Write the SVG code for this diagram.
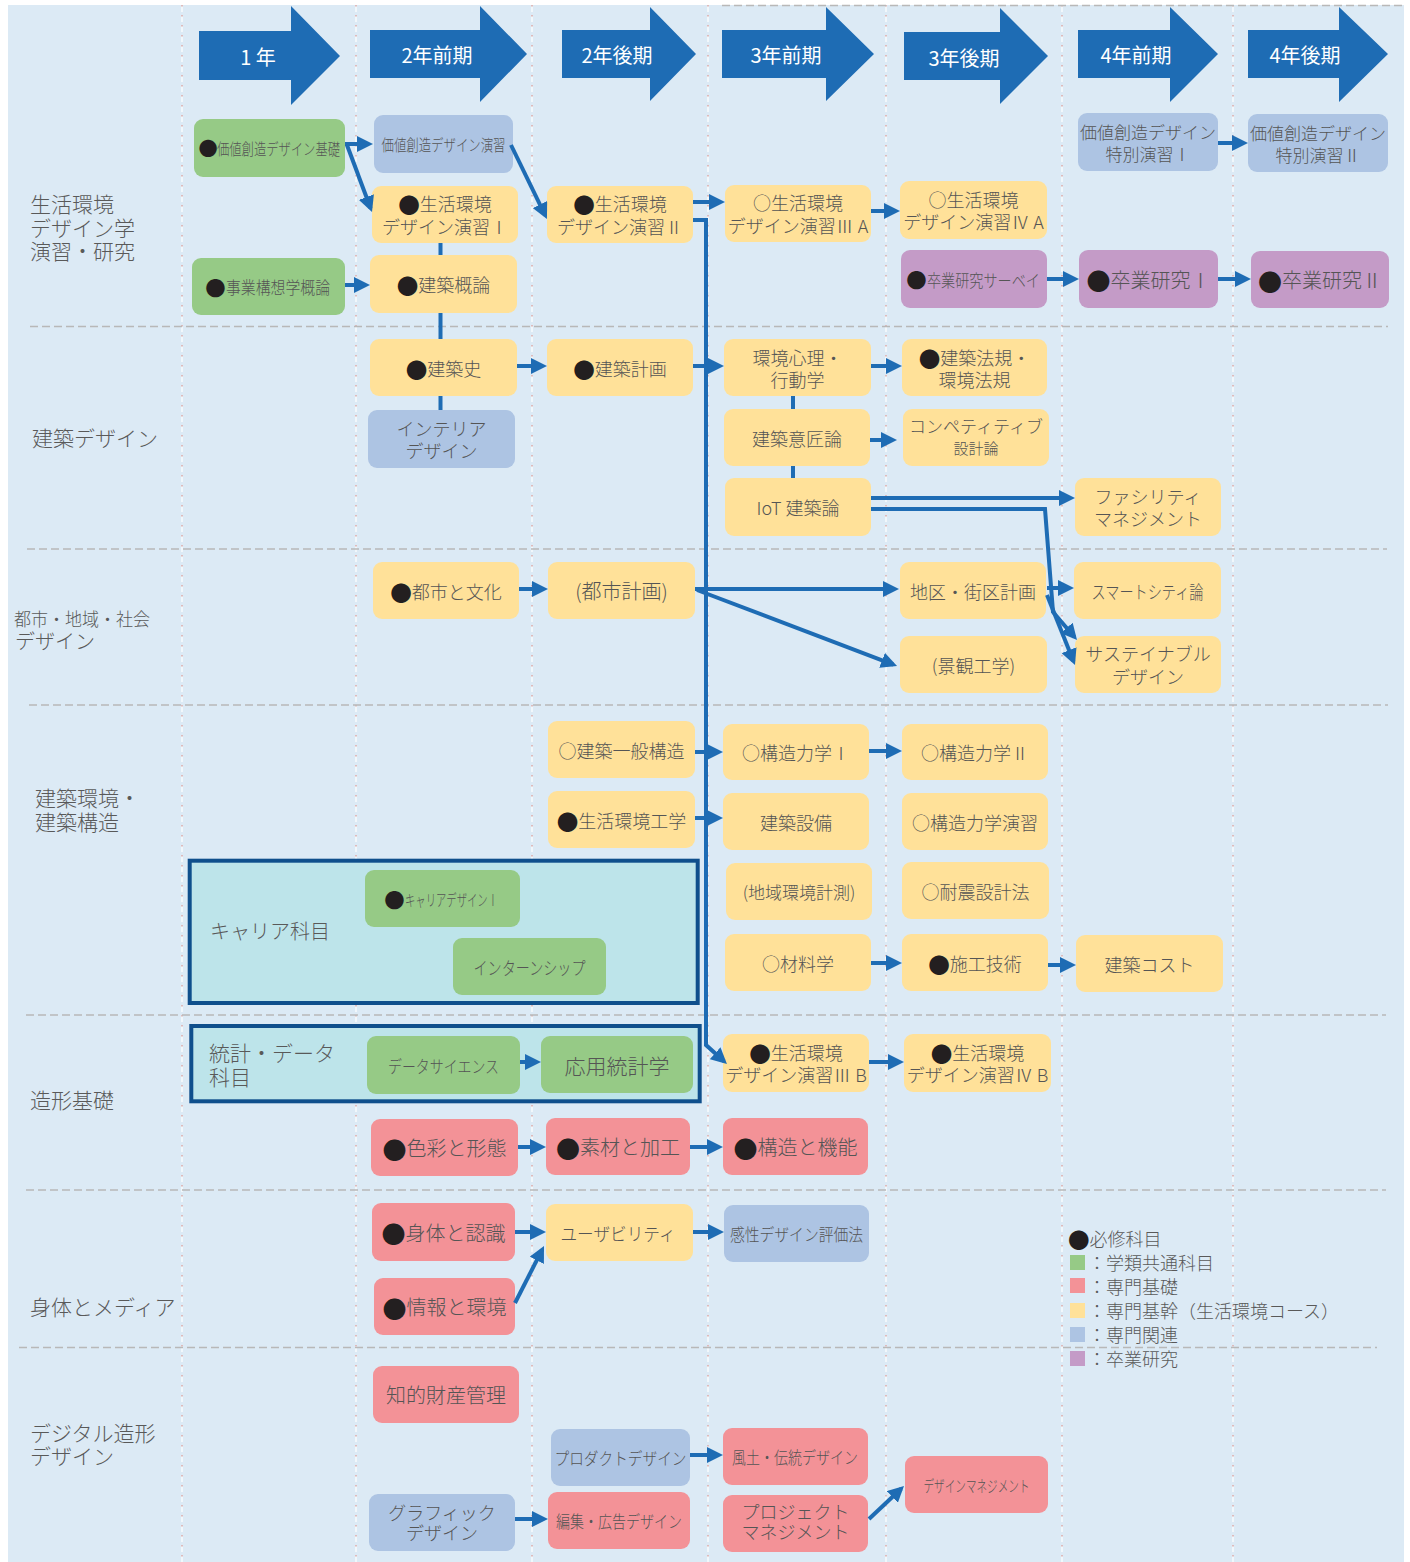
<svg xmlns="http://www.w3.org/2000/svg" width="1410" height="1562" viewBox="0 0 1410 1562">
<defs>
<style>
.t{font-family:"Noto Sans CJK JP","Noto Sans CJK SC",sans-serif;font-weight:300;fill:#555555;text-anchor:middle;dominant-baseline:central}
.st{text-anchor:start}
.l{font-family:"Noto Sans CJK JP","Noto Sans CJK SC",sans-serif;font-weight:300;fill:#595959;dominant-baseline:central;font-size:21px}
.h{font-family:"Noto Sans CJK JP","Noto Sans CJK SC",sans-serif;fill:#fff;text-anchor:middle;dominant-baseline:central;font-size:20px}
.f15{font-size:15px}.f16{font-size:16px}.f17{font-size:17px}.f18{font-size:18px}.f20{font-size:20px}.f21{font-size:21px}
.d{fill:#231f20;font-size:1.2em}
.g{fill:#96ca86}.y{fill:#ffe199}.b{fill:#adc4e3}.p{fill:#c49bc7}.r{fill:#f39297}
.hd{fill:#1e6cb4}
.c{fill:none;stroke:#1e6cb4;stroke-width:4;marker-end:url(#ah)}
.s{fill:none;stroke:#1e6cb4;stroke-width:4}
.hl{stroke:#b8b8b8;stroke-width:1.5;stroke-dasharray:8 4;fill:none}
.vw{stroke:#ffffff;stroke-width:1.2;stroke-dasharray:7 3}
.vp{stroke:#d8a8a8;stroke-width:1.5;stroke-dasharray:1.5 8.5}
.box{fill:#bde4ea;stroke:#0f4f8c;stroke-width:4}
</style>
<marker id="ah" markerUnits="userSpaceOnUse" markerWidth="16" markerHeight="16" refX="12" refY="8" orient="auto">
<path d="M0,0 L16,8 L0,16 z" fill="#1e6cb4"/>
</marker>
</defs>
<rect x="0" y="0" width="1410" height="1562" fill="#ffffff"/>
<rect x="8" y="5" width="1396" height="1557" fill="#dceaf5"/>

<g id="grid">
<g class="vw">
<line x1="182" y1="5" x2="182" y2="1562"/><line x1="356" y1="5" x2="356" y2="1562"/><line x1="532" y1="5" x2="532" y2="1562"/><line x1="708" y1="5" x2="708" y2="1562"/><line x1="886" y1="5" x2="886" y2="1562"/><line x1="1062" y1="5" x2="1062" y2="1562"/><line x1="1233" y1="5" x2="1233" y2="1562"/>
</g>
<g class="vp">
<line x1="182" y1="5" x2="182" y2="1562"/><line x1="356" y1="5" x2="356" y2="1562"/><line x1="532" y1="5" x2="532" y2="1562"/><line x1="708" y1="5" x2="708" y2="1562"/><line x1="886" y1="5" x2="886" y2="1562"/><line x1="1062" y1="5" x2="1062" y2="1562"/><line x1="1233" y1="5" x2="1233" y2="1562"/>
</g>
<line class="hl" x1="722" y1="5.5" x2="1403" y2="5.5"/>
<line class="hl" x1="30" y1="326.5" x2="1388" y2="326.5"/>
<line class="hl" x1="27" y1="549" x2="1387" y2="549"/>
<line class="hl" x1="29" y1="705" x2="1388" y2="705"/>
<line class="hl" x1="26" y1="1015" x2="1386" y2="1015"/>
<line class="hl" x1="26" y1="1190" x2="1386" y2="1190"/>
<line class="hl" x1="19" y1="1347.5" x2="1377" y2="1347.5"/>
</g>

<g id="headers">
<g id="h1"><polygon class="hd" points="199,31 291,31 291,6 340,56 291,105 291,80 199,80"/><text class="h" x="258" y="56">1 年</text></g>
<g id="h2"><polygon class="hd" points="370,30 480,30 480,6 527,54 480,102 480,78 370,78"/><text class="h" x="437" y="54">2年前期</text></g>
<g id="h3"><polygon class="hd" points="562,30 650,30 650,7 696,54 650,101 650,78 562,78"/><text class="h" x="617" y="54">2年後期</text></g>
<g id="h4"><polygon class="hd" points="722,30 826,30 826,7 874,54 826,101 826,78 722,78"/><text class="h" x="786" y="54">3年前期</text></g>
<g id="h5"><polygon class="hd" points="904,32 1000,32 1000,8 1048,56 1000,104 1000,80 904,80"/><text class="h" x="964" y="57">3年後期</text></g>
<g id="h6"><polygon class="hd" points="1078,30 1170,30 1170,7 1218,54 1170,102 1170,78 1078,78"/><text class="h" x="1136" y="54">4年前期</text></g>
<g id="h7"><polygon class="hd" points="1248,30 1339,30 1339,7 1388,54 1339,102 1339,78 1248,78"/><text class="h" x="1305" y="54">4年後期</text></g>
</g>

<g id="rowlabels">
<text class="l" x="30" y="203">生活環境</text>
<text class="l" x="30" y="226.5">デザイン学</text>
<text class="l" x="30" y="250">演習・研究</text>
<text class="l" x="32" y="437">建築デザイン</text>
<text class="l" x="14" y="618" style="font-size:18px" textLength="136" lengthAdjust="spacingAndGlyphs">都市・地域・社会</text>
<text class="l" x="15" y="640" style="font-size:20px">デザイン</text>
<text class="l" x="35" y="797">建築環境・</text>
<text class="l" x="35" y="821">建築構造</text>
<text class="l" x="30" y="1099">造形基礎</text>
<text class="l" x="30" y="1306">身体とメディア</text>
<text class="l" x="30" y="1432">デジタル造形</text>
<text class="l" x="30" y="1455">デザイン</text>
</g>

<g id="careerbox"><rect class="box" x="189.7" y="860.7" width="508" height="142.3"/><text class="l" x="210" y="930" style="font-size:20px">キャリア科目</text></g>
<g id="statsbox"><rect class="box" x="191.3" y="1026" width="508.4" height="75.3"/><text class="l" x="209" y="1051.5">統計・データ</text><text class="l" x="209" y="1076">科目</text></g>

<g id="nodes">
<g id="n-kachi-kiso"><rect class="g" x="194" y="119" width="151" height="58" rx="9"/><text class="t f16" x="208" y="148"><tspan class="d">●</tspan></text><text class="t st f16" x="217" y="148" textLength="123" lengthAdjust="spacingAndGlyphs">価値創造デザイン基礎</text></g>
<g id="n-kachi-ensyu"><rect class="b" x="374" y="115" width="139" height="58" rx="9"/><text class="t f16" x="443.5" y="144" textLength="124" lengthAdjust="spacingAndGlyphs">価値創造デザイン演習</text></g>
<g id="n-sei1"><rect class="y" x="372" y="186" width="146" height="57" rx="9"/><text class="t f18" x="445" y="203"><tspan class="d">●</tspan>生活環境</text><text class="t f18" x="445" y="225.5">デザイン演習Ⅰ</text></g>
<g id="n-gairon"><rect class="y" x="370" y="255" width="147" height="58" rx="9"/><text class="t f18" x="443.5" y="284"><tspan class="d">●</tspan>建築概論</text></g>
<g id="n-jigyo"><rect class="g" x="192" y="258" width="153" height="57" rx="9"/><text class="t f17" x="215.5" y="286.5"><tspan class="d">●</tspan></text><text class="t st f17" x="226" y="286.5" textLength="104" lengthAdjust="spacingAndGlyphs">事業構想学概論</text></g>
<g id="n-sei2"><rect class="y" x="547" y="186" width="146" height="57" rx="9"/><text class="t f18" x="620" y="203"><tspan class="d">●</tspan>生活環境</text><text class="t f18" x="620" y="225.5">デザイン演習Ⅱ</text></g>
<g id="n-sei3a"><rect class="y" x="725" y="185" width="146" height="57" rx="9"/><text class="t f18" x="798" y="202">○生活環境</text><text class="t f18" x="798" y="224.5">デザイン演習Ⅲ A</text></g>
<g id="n-sei4a"><rect class="y" x="900" y="181" width="147" height="58" rx="9"/><text class="t f18" x="973.5" y="198.5">○生活環境</text><text class="t f18" x="973.5" y="221">デザイン演習Ⅳ A</text></g>
<g id="n-survey"><rect class="p" x="901" y="250" width="146" height="58" rx="9"/><text class="t f17" x="916.5" y="279"><tspan class="d">●</tspan></text><text class="t st f17" x="927" y="279" textLength="113" lengthAdjust="spacingAndGlyphs">卒業研究サーベイ</text></g>
<g id="n-toku1"><rect class="b" x="1078" y="113" width="140" height="58" rx="9"/><text class="t f17" x="1148" y="131">価値創造デザイン</text><text class="t f17" x="1148" y="153">特別演習Ⅰ</text></g>
<g id="n-toku2"><rect class="b" x="1248" y="114" width="140" height="58" rx="9"/><text class="t f17" x="1318" y="132">価値創造デザイン</text><text class="t f17" x="1318" y="154">特別演習Ⅱ</text></g>
<g id="n-sotsu1"><rect class="p" x="1079" y="250" width="139" height="58" rx="9"/><text class="t f20" x="1148.5" y="279"><tspan class="d">●</tspan>卒業研究Ⅰ</text></g>
<g id="n-sotsu2"><rect class="p" x="1251" y="251" width="138" height="57" rx="9"/><text class="t f20" x="1320" y="279.5"><tspan class="d">●</tspan>卒業研究Ⅱ</text></g>

<g id="n-shi"><rect class="y" x="370" y="339" width="147" height="57" rx="9"/><text class="t f18" x="443.5" y="367.5"><tspan class="d">●</tspan>建築史</text></g>
<g id="n-keikaku"><rect class="y" x="547" y="339" width="146" height="57" rx="9"/><text class="t f18" x="620" y="367.5"><tspan class="d">●</tspan>建築計画</text></g>
<g id="n-shinri"><rect class="y" x="724" y="339" width="147" height="57" rx="9"/><text class="t f18" x="797.5" y="356.5">環境心理・</text><text class="t f18" x="797.5" y="378.5">行動学</text></g>
<g id="n-hoki"><rect class="y" x="902" y="339" width="145" height="57" rx="9"/><text class="t f18" x="974.5" y="356.5"><tspan class="d">●</tspan>建築法規・</text><text class="t f18" x="974.5" y="378.5">環境法規</text></g>
<g id="n-interior"><rect class="b" x="368" y="410" width="147" height="58" rx="9"/><text class="t f18" x="441.5" y="428">インテリア</text><text class="t f18" x="441.5" y="450">デザイン</text></g>
<g id="n-isho"><rect class="y" x="724" y="409" width="146" height="57" rx="9"/><text class="t f18" x="797" y="437.5">建築意匠論</text></g>
<g id="n-compe"><rect class="y" x="903" y="409" width="146" height="57" rx="9"/><text class="t f17" x="976" y="425">コンペティティブ</text><text class="t f15" x="976" y="447.5">設計論</text></g>
<g id="n-iot"><rect class="y" x="725" y="478" width="146" height="58" rx="9"/><text class="t f18" x="798" y="507">IoT 建築論</text></g>
<g id="n-facility"><rect class="y" x="1075" y="478" width="146" height="58" rx="9"/><text class="t f18" x="1148" y="496">ファシリティ</text><text class="t f18" x="1148" y="517.5">マネジメント</text></g>

<g id="n-toshibunka"><rect class="y" x="373" y="562" width="146" height="57" rx="9"/><text class="t f18" x="446" y="590.5"><tspan class="d">●</tspan>都市と文化</text></g>
<g id="n-toshikeikaku"><rect class="y" x="548" y="562" width="147" height="57" rx="9"/><text class="t f20" x="621.5" y="590.5">(都市計画)</text></g>
<g id="n-chiku"><rect class="y" x="900" y="562" width="146" height="57" rx="9"/><text class="t f18" x="973" y="590.5">地区・街区計画</text></g>
<g id="n-keikan"><rect class="y" x="900" y="636" width="147" height="57" rx="9"/><text class="t f18" x="973.5" y="664.5">(景観工学)</text></g>
<g id="n-smart"><rect class="y" x="1074" y="562" width="147" height="57" rx="9"/><text class="t f18" x="1147.5" y="590.5" textLength="112" lengthAdjust="spacingAndGlyphs">スマートシティ論</text></g>
<g id="n-sustain"><rect class="y" x="1075" y="636" width="146" height="57" rx="9"/><text class="t f18" x="1148" y="653">サステイナブル</text><text class="t f18" x="1148" y="675.5">デザイン</text></g>

<g id="n-ippan"><rect class="y" x="548" y="721" width="147" height="57" rx="9"/><text class="t f18" x="621.5" y="749.5">○建築一般構造</text></g>
<g id="n-riki1"><rect class="y" x="723" y="724" width="146" height="56" rx="9"/><text class="t f18" x="796" y="752">○構造力学Ⅰ</text></g>
<g id="n-riki2"><rect class="y" x="902" y="724" width="146" height="56" rx="9"/><text class="t f18" x="975" y="752">○構造力学Ⅱ</text></g>
<g id="n-kogaku"><rect class="y" x="548" y="791" width="147" height="57" rx="9"/><text class="t f18" x="621.5" y="819.5"><tspan class="d">●</tspan>生活環境工学</text></g>
<g id="n-setsubi"><rect class="y" x="723" y="793" width="146" height="57" rx="9"/><text class="t f18" x="796" y="821.5">建築設備</text></g>
<g id="n-rikiensyu"><rect class="y" x="902" y="793" width="146" height="57" rx="9"/><text class="t f18" x="975" y="821.5">○構造力学演習</text></g>
<g id="n-keisoku"><rect class="y" x="726" y="863" width="146" height="57" rx="9"/><text class="t f17" x="799" y="891.5">(地域環境計測)</text></g>
<g id="n-taishin"><rect class="y" x="902" y="862" width="147" height="57" rx="9"/><text class="t f18" x="975.5" y="890.5">○耐震設計法</text></g>
<g id="n-zairyo"><rect class="y" x="725" y="934" width="146" height="57" rx="9"/><text class="t f18" x="798" y="962.5">○材料学</text></g>
<g id="n-seko"><rect class="y" x="902" y="934" width="146" height="57" rx="9"/><text class="t f18" x="975" y="962.5"><tspan class="d">●</tspan>施工技術</text></g>
<g id="n-cost"><rect class="y" x="1076" y="935" width="147" height="57" rx="9"/><text class="t f18" x="1149.5" y="963.5">建築コスト</text></g>

<g id="n-career1"><rect class="g" x="365" y="870" width="155" height="57" rx="9"/><text class="t f17" x="394.5" y="898.5"><tspan class="d">●</tspan></text><text class="t st f16" x="405" y="898.5" textLength="93" lengthAdjust="spacingAndGlyphs">キャリアデザインⅠ</text></g>
<g id="n-intern"><rect class="g" x="453" y="938" width="153" height="57" rx="9"/><text class="t f18" x="529.5" y="966.5" textLength="112" lengthAdjust="spacingAndGlyphs">インターンシップ</text></g>

<g id="n-datasci"><rect class="g" x="367" y="1036" width="153" height="58" rx="9"/><text class="t f17" x="443.5" y="1065" textLength="111" lengthAdjust="spacingAndGlyphs">データサイエンス</text></g>
<g id="n-oyo"><rect class="g" x="541" y="1036" width="152" height="57" rx="9"/><text class="t f21" x="617" y="1064.5">応用統計学</text></g>
<g id="n-sei3b"><rect class="y" x="723" y="1034" width="146" height="58" rx="9"/><text class="t f18" x="796" y="1051.5"><tspan class="d">●</tspan>生活環境</text><text class="t f18" x="796" y="1074">デザイン演習Ⅲ B</text></g>
<g id="n-sei4b"><rect class="y" x="904" y="1034" width="147" height="58" rx="9"/><text class="t f18" x="977.5" y="1051.5"><tspan class="d">●</tspan>生活環境</text><text class="t f18" x="977.5" y="1074">デザイン演習Ⅳ B</text></g>
<g id="n-shikisai"><rect class="r" x="371" y="1119" width="147" height="57" rx="9"/><text class="t f20" x="444.5" y="1147.5"><tspan class="d">●</tspan>色彩と形態</text></g>
<g id="n-sozai"><rect class="r" x="546" y="1118" width="144" height="57" rx="9"/><text class="t f20" x="618" y="1146.5"><tspan class="d">●</tspan>素材と加工</text></g>
<g id="n-kozo"><rect class="r" x="723" y="1118" width="145" height="57" rx="9"/><text class="t f20" x="795.5" y="1146.5"><tspan class="d">●</tspan>構造と機能</text></g>

<g id="n-shintai"><rect class="r" x="372" y="1203" width="143" height="58" rx="9"/><text class="t f20" x="443.5" y="1232"><tspan class="d">●</tspan>身体と認識</text></g>
<g id="n-joho"><rect class="r" x="374" y="1278" width="141" height="57" rx="9"/><text class="t f20" x="444.5" y="1306.5"><tspan class="d">●</tspan>情報と環境</text></g>
<g id="n-usability"><rect class="y" x="546" y="1204" width="147" height="57" rx="9"/><text class="t f18" x="618" y="1232.5" textLength="115" lengthAdjust="spacingAndGlyphs">ユーザビリティ</text></g>
<g id="n-kansei"><rect class="b" x="724" y="1205" width="145" height="57" rx="9"/><text class="t f17" x="796.5" y="1233.5" textLength="133" lengthAdjust="spacingAndGlyphs">感性デザイン評価法</text></g>

<g id="n-chiteki"><rect class="r" x="373" y="1366" width="146" height="57" rx="9"/><text class="t f20" x="446" y="1394.5">知的財産管理</text></g>
<g id="n-product"><rect class="b" x="551" y="1429" width="139" height="57" rx="9"/><text class="t f17" x="620.5" y="1457.5" textLength="132" lengthAdjust="spacingAndGlyphs">プロダクトデザイン</text></g>
<g id="n-fudo"><rect class="r" x="723" y="1428" width="145" height="57" rx="9"/><text class="t f17" x="795" y="1456.5" textLength="126" lengthAdjust="spacingAndGlyphs">風土・伝統デザイン</text></g>
<g id="n-graphic"><rect class="b" x="369" y="1494" width="146" height="57" rx="9"/><text class="t f18" x="442" y="1511.5">グラフィック</text><text class="t f18" x="442" y="1532">デザイン</text></g>
<g id="n-henshu"><rect class="r" x="548" y="1492" width="142" height="57" rx="9"/><text class="t f17" x="619" y="1520.5" textLength="126" lengthAdjust="spacingAndGlyphs">編集・広告デザイン</text></g>
<g id="n-project"><rect class="r" x="723" y="1495" width="145" height="57" rx="9"/><text class="t f18" x="795.5" y="1510.5">プロジェクト</text><text class="t f18" x="795.5" y="1531">マネジメント</text></g>
<g id="n-dmgmt"><rect class="r" x="905" y="1456" width="143" height="57" rx="9"/><text class="t f16" x="976.5" y="1484.5" textLength="106" lengthAdjust="spacingAndGlyphs">デザインマネジメント</text></g>
</g>

<g id="connectors">
<path class="c" d="M345,144 L369,144"/>
<path class="c" d="M347,145 L370.6,208.3"/>
<path class="c" d="M345,285 L366,285"/>
<path class="c" d="M511,145 L545.2,215.4"/>
<path class="c" d="M693,202 L721,202"/>
<path class="c" d="M871,211 L896,211"/>
<path class="c" d="M1047,279 L1075,279"/>
<path class="c" d="M1218,279 L1247,279"/>
<path class="c" d="M1218,143 L1244,143"/>
<path class="s" d="M440.5,243 V255 M440.5,313 V339 M440.5,396 V410"/>
<path class="c" d="M517,366 L543,366"/>
<path class="c" d="M693,366 L720,366"/>
<path class="c" d="M871,366 L898,366"/>
<path class="s" d="M793,396 V409 M793,466 V478"/>
<path class="c" d="M870,440 L893,440"/>
<path class="c" d="M871,498 L1071,498"/>
<path class="c" d="M871,509 L1045,509 L1053,612 L1074.4,637"/>
<path class="c" d="M1047,595 L1073.5,661.3"/>
<path class="c" d="M1047,588 L1070,588"/>
<path class="c" d="M519,589 L544,589"/>
<path class="c" d="M695,589 L895,589"/>
<path class="c" d="M697,590 L893.3,664.6"/>
<path class="c" d="M693,220 L706,220 L706,1045 L724,1061.3"/>
<path class="c" d="M695,752 L719,752"/>
<path class="c" d="M869,751 L898,751"/>
<path class="c" d="M695,818 L719,818"/>
<path class="c" d="M871,963 L898,963"/>
<path class="c" d="M1048,965 L1072,965"/>
<path class="c" d="M520,1062 L537,1062"/>
<path class="c" d="M869,1062 L900,1062"/>
<path class="c" d="M518,1147 L542,1147"/>
<path class="c" d="M690,1147 L719,1147"/>
<path class="c" d="M515,1232 L542,1232"/>
<path class="c" d="M515,1303 L542.2,1249.6"/>
<path class="c" d="M693,1232 L720,1232"/>
<path class="c" d="M690,1455 L719,1455"/>
<path class="c" d="M515,1519 L544,1519"/>
<path class="c" d="M869,1519 L901.1,1488.7"/>
</g>

<g id="legend">
<text class="l" x="1068" y="1238" style="font-size:18px"><tspan class="d">●</tspan>必修科目</text>
<rect class="g" x="1070" y="1255" width="15" height="15"/><text class="l" x="1088" y="1262" style="font-size:18px">：学類共通科目</text>
<rect class="r" x="1070" y="1278" width="15" height="15"/><text class="l" x="1088" y="1286" style="font-size:18px">：専門基礎</text>
<rect class="y" x="1070" y="1303" width="15" height="15"/><text class="l" x="1088" y="1310" style="font-size:18px">：専門基幹（生活環境コース）</text>
<rect class="b" x="1070" y="1327" width="15" height="15"/><text class="l" x="1088" y="1334" style="font-size:18px">：専門関連</text>
<rect class="p" x="1070" y="1351" width="15" height="15"/><text class="l" x="1088" y="1358" style="font-size:18px">：卒業研究</text>
</g>
</svg>
